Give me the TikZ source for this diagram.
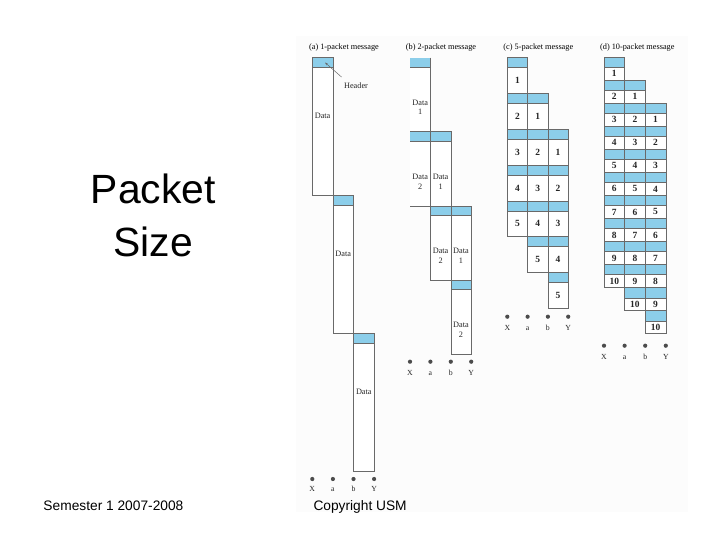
\documentclass[tikz,border=0pt]{standalone}
\usepackage{fontspec}
\setmainfont{Liberation Serif}
\newfontfamily\sansf{Liberation Sans}
\usetikzlibrary{arrows.meta}
\definecolor{hdrblue}{RGB}{140,206,234}
\definecolor{linegray}{RGB}{105,105,105}
\definecolor{figbg}{RGB}{252,252,252}
\begin{document}
\begin{tikzpicture}[x=1bp,y=-1bp,
  hdr/.style={draw=linegray, line width=0.6bp, fill=hdrblue, anchor=north west, inner sep=0, outer sep=0},
  hdrn/.style={draw=none, fill=hdrblue, anchor=north west, inner sep=0, outer sep=0},
  cell/.style={draw=linegray, line width=0.6bp, fill=white, anchor=north west, inner sep=0, outer sep=0, font=\fontsize{9.5}{10}\selectfont\bfseries, text=black!85},
  celln/.style={draw=none, fill=white, anchor=north west, inner sep=0, outer sep=0},
  lbl/.style={font=\fontsize{8.3}{9.5}\selectfont, text=black!85, inner sep=0, align=center},
  ttl/.style={font=\fontsize{8.3}{9}\selectfont, text=black, inner sep=0, anchor=base},
  dotn/.style={circle, fill=black!70, inner sep=0, minimum size=4.2bp},
  nodelbl/.style={font=\fontsize{7.8}{8}\selectfont, text=black!85, inner sep=0, anchor=base},
  big/.style={font=\sansf\fontsize{41}{45}\selectfont, inner sep=0, anchor=base},
  foot/.style={font=\sansf\fontsize{13.8}{15}\selectfont, inner sep=0, anchor=base west}
]
\useasboundingbox (0,0) rectangle (720,540);
\fill[white] (0,0) rectangle (720,540);
\fill[figbg] (296,36) rectangle (688,512);

% left text
\node[big] (t1) at (153.3,203.3) {Packet};
\node[big] (t2) at (153.3,256.7) {Size};
\node[foot] (f1) at (43.3,510.7) {Semester 1 2007-2008};
\node[foot] (f2) at (313.3,510.7) {Copyright USM};

% titles
\node[ttl] (ta) at (344,49.5) {(a) 1-packet message};
\node[ttl] (tb) at (441,49.5) {(b) 2-packet message};
\node[ttl] (tc) at (538.3,49.5) {(c) 5-packet message};
\node[ttl] (td) at (637.3,49.5) {(d) 10-packet message};

% ---------- (a) ----------
\foreach \j in {0,1,2} {
  \node[cell, minimum width=20.6bp, minimum height=127.8bp] (a-\j-d) at ({312.3+\j*20.6},{67.7+\j*137.8}) {};
  \node[hdr, minimum width=20.6bp, minimum height=10bp] (a-\j-h) at ({312.3+\j*20.6},{57.7+\j*137.8}) {};
  \node[lbl] (a-\j-l) at ({322.6+\j*20.6},{116+\j*137.8}) {Data};
}
\node[lbl] (hlab) at (356,85.5) {Header};
\coordinate (harrow) at (341.5,77);
\coordinate (hpt) at (325,62.5);
\draw[linegray, line width=0.5bp, -{Stealth[length=3bp,width=2.2bp]}] (harrow) -- (hpt);
\foreach \n/\i in {X/0,a/1,b/2,Y/3} {
  \node[dotn] (a-dot-\i) at ({312.3+\i*20.6},479) {};
  \node[nodelbl] (a-lab-\i) at ({312.3+\i*20.6},491.5) {\n};
}

% ---------- (b) ----------
\foreach \k in {0,...,3} {
  \foreach \j in {0,1,2} {
    \pgfmathtruncatemacro\p{\k-\j+1}
    \ifnum\p>0 \ifnum\p<3
      \ifnum\j=0
        \node[celln, minimum width=20.4bp, minimum height=64.5bp] (b-\k-\j-d) at ({410+\j*20.4},{67.3+\k*74.1}) {};
        \node[hdrn, minimum width=20.4bp, minimum height=9.6bp] (b-\k-\j-h) at ({410+\j*20.4},{57.7+\k*74.1}) {};
        \draw[linegray, line width=0.6bp] (b-\k-\j-h.north east) -- (b-\k-\j-d.south east);
        \draw[linegray, line width=0.6bp] (b-\k-\j-h.south west) -- (b-\k-\j-h.south east);
        \draw[linegray, line width=0.6bp] (b-\k-\j-d.south west) -- (b-\k-\j-d.south east);
      \else
        \node[cell, minimum width=20.4bp, minimum height=64.5bp] (b-\k-\j-d) at ({410+\j*20.4},{67.3+\k*74.1}) {};
        \node[hdr, minimum width=20.4bp, minimum height=9.6bp] (b-\k-\j-h) at ({410+\j*20.4},{57.7+\k*74.1}) {};
      \fi
      \node[lbl] (b-\k-\j-l) at ({420.2+\j*20.4},{107.5+\k*74.1}) {Data\\\p};
    \fi\fi
  }
}
\foreach \n/\i in {X/0,a/1,b/2,Y/3} {
  \node[dotn] (b-dot-\i) at ({410+\i*20.4},361.7) {};
  \node[nodelbl] (b-lab-\i) at ({410+\i*20.4},375.5) {\n};
}

% ---------- (c) ----------
\foreach \k in {0,...,6} {
  \foreach \j in {0,1,2} {
    \pgfmathtruncatemacro\p{\k-\j+1}
    \ifnum\p>0 \ifnum\p<6
      \node[hdr, minimum width=20.3bp, minimum height=10bp] (c-\k-\j-h) at ({507.3+\j*20.3},{57.7+\k*35.8}) {};
      \node[cell, minimum width=20.3bp, minimum height=25.8bp] (c-\k-\j-d) at ({507.3+\j*20.3},{67.7+\k*35.8}) {\p};
    \fi\fi
  }
}
\foreach \n/\i in {X/0,a/1,b/2,Y/3} {
  \node[dotn] (c-dot-\i) at ({507.3+\i*20.3},316.7) {};
  \node[nodelbl] (c-lab-\i) at ({507.3+\i*20.3},330) {\n};
}

% ---------- (d) ----------
\foreach \k in {0,...,11} {
  \foreach \j in {0,1,2} {
    \pgfmathtruncatemacro\p{\k-\j+1}
    \ifnum\p>0 \ifnum\p<11
      \node[hdr, minimum width=20.6bp, minimum height=10.5bp] (d-\k-\j-h) at ({604+\j*20.6},{57+\k*23.03}) {};
      \node[cell, minimum width=20.6bp, minimum height=12.5bp] (d-\k-\j-d) at ({604+\j*20.6},{67.5+\k*23.03}) {\p};
    \fi\fi
  }
}
\foreach \n/\i in {X/0,a/1,b/2,Y/3} {
  \node[dotn] (d-dot-\i) at ({604+\i*20.6},345.7) {};
  \node[nodelbl] (d-lab-\i) at ({604+\i*20.6},359) {\n};
}
\end{tikzpicture}
\end{document}
